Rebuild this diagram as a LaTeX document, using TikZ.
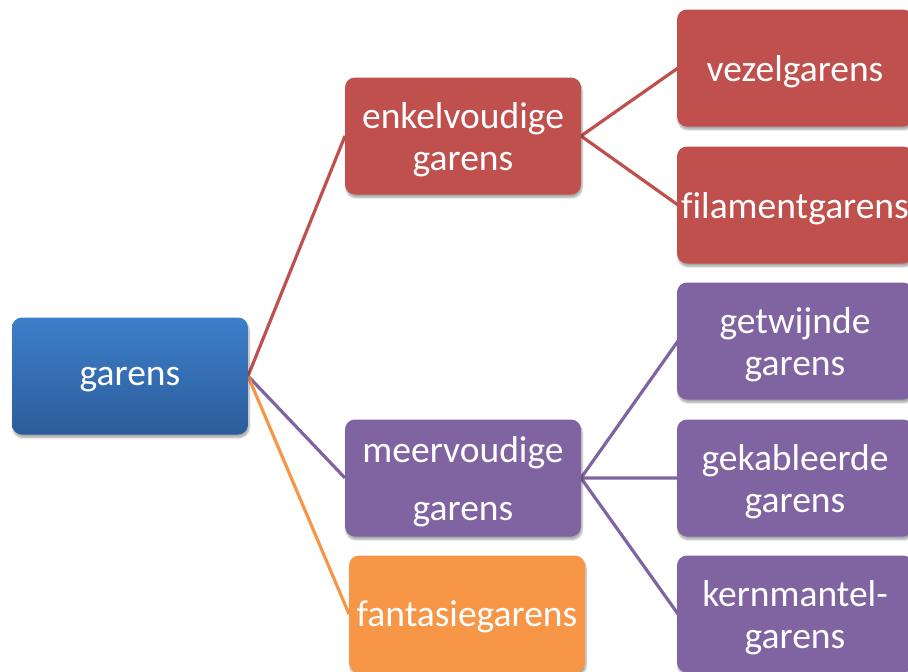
\documentclass[tikz,border=0pt]{standalone}
\usepackage{fontspec}
\setmainfont{Carlito}[Ligatures=NoCommon]
\usepackage{xcolor}
\usetikzlibrary{shadows.blur, positioning}
\definecolor{garblue}{RGB}{61,126,203}
\definecolor{garbluedark}{RGB}{44,93,154}
\definecolor{garred}{RGB}{192,80,77}
\definecolor{garpurple}{RGB}{128,100,162}
\definecolor{garorange}{RGB}{247,150,70}
\tikzset{
  % Blokken van het schema
  box/.style={rounded corners=10pt,minimum width=236pt,minimum height=117pt,inner sep=0pt,
    align=center,text=white,text depth=0pt,font=\fontsize{37.5}{42}\selectfont,
    blur shadow={shadow xshift=1pt,shadow yshift=-3pt,shadow blur steps=6,shadow opacity=35}},
  box root/.style={box,top color=garblue,bottom color=garbluedark},
  box red/.style={box,fill=garred},
  box purple/.style={box,fill=garpurple},
  box orange/.style={box,fill=garorange},
  % Verbindingen
  link/.style={line width=3.2pt}
}
\begin{document}
\begin{tikzpicture}[x=1pt,y=-1pt]
  \useasboundingbox (0,0) rectangle (908,672);
  % verbindingen eerst, blokken erover
  \coordinate (r) at (248,376);
  \coordinate (e) at (581,136);
  \coordinate (m) at (581,478);
  \draw[link,garred] (r) -- (345,136);
  \draw[link,garpurple] (r) -- (345,478);
  \draw[link,garorange] (r) -- (349,614);
  \draw[link,garred] (e) -- (678,68) (e) -- (678,205);
  \draw[link,garpurple] (m) -- (678,341) (m) -- (678,478) (m) -- (678,614);
  % blokken
  \node[box root] (garens) at (130,376) {garens};
  \node[box red] (enkel) at (463,136) {enkelvoudige\\garens};
  \node[box purple,font=\fontsize{37.5}{58}\selectfont] (meer) at (463,478) {meervoudige\\garens};
  \node[box orange] (fantasie) at (467,614) {fantasiegarens};
  \node[box red] (vezel) at (795,68) {vezelgarens};
  \node[box red] (filament) at (795,205) {filamentgarens};
  \node[box purple] (getwijnd) at (795,341) {getwijnde\\garens};
  \node[box purple] (gekabel) at (795,478) {gekableerde\\garens};
  \node[box purple] (kern) at (795,614) {kernmantel-\\garens};
\end{tikzpicture}
\end{document}
